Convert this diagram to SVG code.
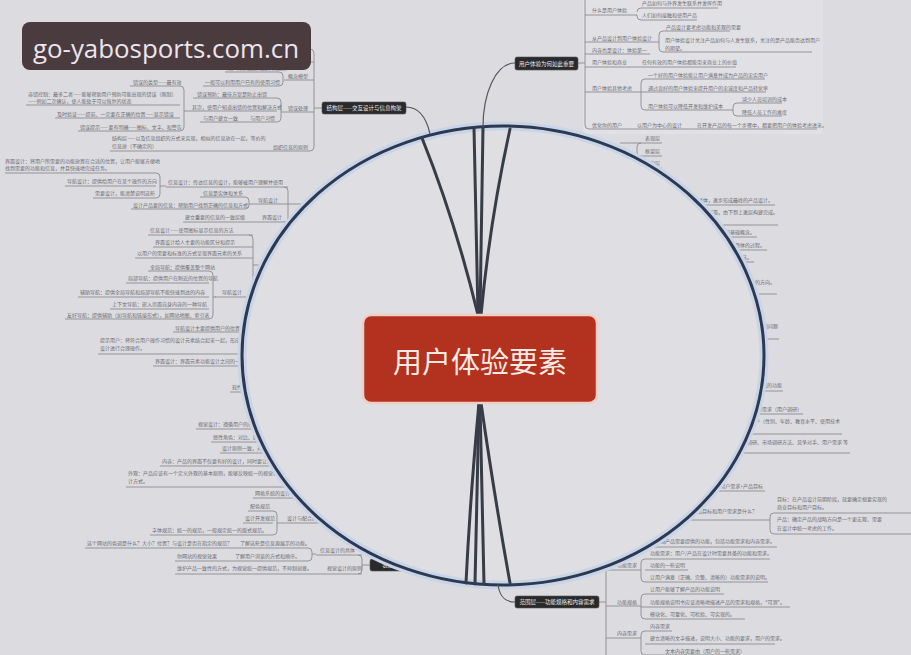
<svg xmlns="http://www.w3.org/2000/svg" width="911" height="655" viewBox="0 0 911 655">
<style>
.t{font-family:"Noto Sans CJK SC","Noto Sans",sans-serif;font-size:5px;fill:#6a6a70}
.e{text-anchor:end}
.u{fill:none;stroke:#8a8a90;stroke-width:0.9}
.lb{fill:#2a2a2c;stroke:#555;stroke-width:0.6}
.lt{font-family:"Noto Sans CJK SC","Noto Sans",sans-serif;font-size:5.5px;fill:#ececec;text-anchor:middle}
.inner{fill:none;stroke:#383c46;stroke-width:3;stroke-linecap:round}
.cn{fill:none;stroke:#55575e;stroke-width:1.2}
</style>
<rect width="911" height="655" fill="#dcdce0"/>
<rect x="583" y="0" width="240" height="134" fill="#e1e1e5"/>

<g id="connectors">
<path class="u" d="M578,63 H585 M585,0 V125 Q585,129 589,129 H817 M585,15 H637 M637,12 Q637,8 641,8 H718 M637,15 V16 Q637,20 641,20 H697 M585,42 H659 M663,31 Q659,31 659,35 V48 Q659,52 663,52 M663,31 H730 M663,52 H812 M585,54 H650 M585,67 H736 M585,92 H641 M645,79 Q641,79 641,83 V106 Q641,110 645,110 M645,79 H765 M641,92 H766 M645,110 H733 M737,103 Q733,103 733,107 V112 Q733,116 737,116 M737,103 H782 M737,116 H782"/>
<path class="u" d="M314,108 H322 M205,49 H310 Q314,49 314,53 V147 Q314,151 310,151 H110 M210,62 H314 M314,80 H284 M279,72 Q283,72 283,76 V82 Q283,86 279,86 M279,72 H225 M279,86 H203 M314,112 H281 M277,98 Q281,98 281,102 V118 Q281,122 277,122 M277,98 H193 M277,111 H184 M277,122 H200 M180,86 Q184,86 184,90 V127 Q184,131 180,131 M180,86 H130 M180,105 H26 M180,118 H55 M180,131 H78"/>
<path class="u" d="M5,173 H156 M65,186 H156 M93,198 H156 M156,173 Q160,173 160,177 V194 Q160,198 156,198 M160,186 H166 M166,187 H288 M245,197 Q249,197 249,201 V205 Q249,209 245,209 M245,197 H200 M245,209 H131 M249,204 H288 M183,222 H288 M284,187 Q288,187 288,191 V218 Q288,222 284,222 M288,204 H312"/>
<path class="u" d="M148,235 H253 M153,247 H253 M135,258 H253 M249,235 Q253,235 253,239 V328 Q253,332 249,332 M253,265 H275 M215,297 H253 M209,271 Q213,271 213,275 V315 Q213,319 209,319 M213,297 H216 M209,271 H148 M209,283 H126 M209,297 H78 M209,309 H110 M209,319 H65 M173,332 H249"/>
<path class="u" d="M98,354 H252 M153,366 H250 M230,392 H252 M196,429 H262 M211,442 H268 M220,453 H272 M160,466 H282 M126,487 H292 M253,498 H300 M248,511 H273 M243,523 H273 M277,523 H325 M150,535 H273 M273,511 Q277,511 277,515 V531 Q277,535 273,535"/>
<path class="u" d="M85,548 H308 M175,561 H308 M308,548 Q312,548 312,552 V557 Q312,561 308,561 M312,554 H316 M316,555 H362 M175,574 H362 M358,555 Q362,555 362,559 V570 Q362,574 358,574 M362,565 H370"/>
<path class="u" d="M620,143 H662 M641,143 Q637,143 637,147 V152 Q637,156 641,156 M640,156 H662 M620,168 H662 M620,180 H662 M620,192 H662 M680,205 H775 M690,225 H778 M700,237 H757 M700,250 H767 M720,262 H754 M730,294 H777 M740,339 H779 M750,391 H783 M740,414 H803 M740,434 H842 M740,453 H850 M700,491 H765 M660,520 H770 M915,513 H774 Q770,513 770,517 V530 Q770,534 774,534 H915"/>
<path class="u" d="M599,602 H606 M606,570 V655 M640,547 H777 M606,570 H641 M645,559 Q641,559 641,563 V578 Q641,582 645,582 M645,559 H770 M645,570 H688 M645,582 H768 M606,606 H641 M645,594 Q641,594 641,598 V615 Q641,619 645,619 M645,594 H724 M641,607 H790 M645,619 H745 M606,638 H641 M645,631 Q641,631 641,635 V651 Q641,655 645,655 M645,631 H672 M645,644 H775 M645,655 H740"/>
</g>

<g id="node-why">
<text class="t" x="592" y="12">什么是用户体验</text>
<text class="t" x="642" y="5">产品如何与外界发生联系并发挥作用</text>
<text class="t" x="642" y="17">人们如何接触和使用产品</text>
<text class="t" x="592" y="40">从产品设计到用户体验设计</text>
<text class="t" x="666" y="29">产品设计要考虑功能和美观的需要</text>
<text class="t" x="665" y="42">用户体验设计关注产品如何与人发生联系，关注的是产品能否达到用户</text>
<text class="t" x="665" y="50">的期望。</text>
<text class="t" x="592" y="52">内容也是设计：体验第一</text>
<text class="t" x="592" y="64">用户体验和商业</text>
<text class="t" x="642" y="64">任何有效的用户体验都能带来商业上的价值</text>
<text class="t" x="592" y="90">用户体验其他考虑</text>
<text class="t" x="648" y="77">一个好的用户体验能让用户满意并成为产品的忠实用户</text>
<text class="t" x="648" y="90">通过良好的用户体验来提升用户的忠诚度和产品转化率</text>
<text class="t" x="648" y="108">用户体验可以降低开发和维护成本</text>
<text class="t" x="742" y="101">减少人员培训的成本</text>
<text class="t" x="742" y="114">降低人员工作的难度</text>
<text class="t" x="592" y="127">优化你的用户</text>
<text class="t" x="637" y="127">以用户为中心的设计</text>
<text class="t" x="697" y="127">在开发产品的每一个步骤中，都要把用户的体验考虑进来。</text>
</g>

<g id="node-structure-items">
<text class="t" x="288" y="78">概念模型</text>
<text class="t" x="227" y="70">用户对系统如何运作的理解</text>
<text class="t" x="205" y="84">一般可以利用用户已有的使用习惯</text>
<text class="t" x="288" y="110">错误处理</text>
<text class="t" x="197" y="96">错误预防：最佳方案是防止出错</text>
<text class="t" x="192" y="109">其次，使用户知道出错的位置和解决方式</text>
<text class="t" x="203" y="120">与用户建立一致</text>
<text class="t" x="250" y="120">与用户习惯</text>
<text class="t" x="133" y="84">错误的类型——最有效</text>
<text class="t" x="28" y="96">容错控制：最多二者——能够帮助用户预防可能出现的错误（限制）</text>
<text class="t" x="28" y="103">——例如二次确认，使人能处于可以恢复的状态</text>
<text class="t" x="57" y="116">及时验证——提前、一定要在正确的位置——显示错误</text>
<text class="t" x="80" y="129">错误提示——要有明确——图标、文字、和警告</text>
<text class="t" x="112" y="140">结构层——以及信息组织的方式来实现，相似的信息放在一起，等价的</text>
<text class="t" x="112" y="148">信息放（不确定的）</text>
<text class="t" x="273" y="149">组织信息的原则</text>
</g>

<g id="node-left-items">
<text class="t" x="5" y="163">界面设计：将用户所需要的功能放置在合适的位置，让用户能够方便地</text>
<text class="t" x="5" y="170">找到需要的功能和信息，并且快速地完成任务。</text>
<text class="t" x="67" y="183">导航设计：提供给用户在某个操作的方向</text>
<text class="t" x="95" y="195">需要设计，能清楚说明这些</text>
<text class="t" x="168" y="184">信息设计：传达信息的设计，能够被用户理解并使用</text>
<text class="t" x="203" y="195">信息是实体和关系</text>
<text class="t" x="133" y="207">设计产品要的信息：帮助用户找到正确的信息和方式</text>
<text class="t" x="258" y="202">导航设计</text>
<text class="t" x="185" y="219">建立重要的信息的一致层级</text>
<text class="t" x="262" y="219">界面设计</text>
<text class="t" x="150" y="232">信息设计——使用图标显示信息的方法</text>
<text class="t" x="155" y="244">界面设计给人主要的功能区分和提示</text>
<text class="t" x="137" y="255">以用户的需要和标准的方式呈现界面元素的关系</text>
<text class="t" x="222" y="294">导航设计</text>
<text class="t" x="150" y="269">全局导航：提供覆盖整个网站</text>
<text class="t" x="128" y="280">局部导航：提供用户在附近的位置的导航</text>
<text class="t" x="80" y="294">辅助导航：提供全局导航和局部导航不能快速到达的内容</text>
<text class="t" x="112" y="306">上下文导航：嵌入页面自身内容的一种导航</text>
<text class="t" x="67" y="317">友好导航：提供辅助（如导航和链接形式），如网站地图、索引表</text>
<text class="t" x="175" y="330">导航设计主要提供用户的位置</text>
<text class="t" x="100" y="342">提示用户：将符合用户操作习惯的设计元素结合起来一起，形成一个整体的</text>
<text class="t" x="100" y="350">设计进行合理操作。</text>
<text class="t" x="155" y="363">界面设计：界面元素功能设计之间的一致性</text>
<text class="t" x="232" y="389">软件设计</text>
<text class="t" x="198" y="426">视觉设计：遵循用户的视觉习惯</text>
<text class="t" x="213" y="439">感性角色：对比、统一性</text>
<text class="t" x="222" y="450">设计原则一致，对比</text>
<text class="t" x="162" y="463">内容：产品的界面不仅要有好的设计，同时要让内容更加丰富</text>
<text class="t" x="128" y="475">外观：产品应该有一个定义外观的基本原则，能够反映统一的视觉特征和品牌的设</text>
<text class="t" x="128" y="483">计方式。</text>
<text class="t" x="255" y="495">网格系统的设计</text>
<text class="t" x="250" y="508">配色规范</text>
<text class="t" x="245" y="520">设计开发规范</text>
<text class="t" x="287" y="520">设计与配合的规范</text>
<text class="t" x="152" y="532">字体规范：统一的规范，一般规定统一的版式规范。</text>
</g>

<g id="node-surface">
<text class="t" x="87" y="545">这个网站的色调是什么？大小？位置？与设计是否在指定的规范？</text>
<text class="t" x="240" y="545">了解这些是信息源展示的功能。</text>
<text class="t" x="177" y="558">你网站的视觉效果</text>
<text class="t" x="235" y="558">了解用户浏览的方式和顺序。</text>
<text class="t" x="320" y="552">信息设计的具体</text>
<text class="t" x="177" y="570">维护产品一致性的方式，为视觉统一提供规范，不抑制创意。</text>
<text class="t" x="327" y="570">视觉设计的原则</text>
<rect class="lb" x="370" y="559" width="72" height="12" rx="2"/>
<text class="lt" x="406" y="567">表现层——感知设计</text>
</g>

<g id="node-right-items">
<text class="t" x="645" y="140">表现层</text>
<text class="t" x="645" y="153">框架层</text>
<text class="t" x="645" y="165">结构层</text>
<text class="t" x="645" y="177">范围层</text>
<text class="t" x="645" y="189">战略层</text>
<text class="t e" x="773" y="202">用户体验的五个层面由抽象到具体，逐步形成最终的产品设计。</text>
<text class="t e" x="778" y="214">每个层面都依赖于其下面的层面，由下到上逐层构建完成。</text>
<text class="t e" x="755" y="234">战略层是其他各层的基础概念。</text>
<text class="t e" x="765" y="247">从下到上的设计是一个整体的过程。</text>
<text class="t e" x="752" y="259">自下而上的方法。</text>
<text class="t e" x="775" y="284">每一层都是设计的方向。</text>
<text class="t e" x="778" y="328">每一层要解决的问题</text>
<text class="t e" x="782" y="387">这些层面要完成的功能</text>
<text class="t e" x="802" y="411">用户需求：外部需求（用户调研）</text>
<text class="t e" x="840" y="423">细分用户（性别、年龄、教育水平、使用技术</text>
<text class="t e" x="848" y="444">用户需求调研、市场调研方法、竞争对手、用户需求 等</text>
<text class="t e" x="763" y="488">用户需求+产品目标</text>
<text class="t" x="777" y="501">目标：在产品设计前期阶段，就要确定想要实现的</text>
<text class="t" x="777" y="509">商业目标和用户目标。</text>
<text class="t e" x="757" y="513">产品目标和用户需求是什么？</text>
<text class="t" x="777" y="521">产品：确定产品的战略方向是一个更宏观、需要</text>
<text class="t" x="777" y="530">在设计中统一考虑的工作。</text>
</g>

<g id="node-scope-items">
<text class="t e" x="775" y="543">功能规格：明确产品需要提供的功能，包括功能需求和内容需求。</text>
<text class="t" x="650" y="555">功能需求：用户/产品在设计时需要具备的功能和需求。</text>
<text class="t" x="617" y="567">功能需求</text>
<text class="t" x="650" y="567">功能的一些说明</text>
<text class="t" x="650" y="579">让用户满意（正确、完整、清晰的）功能需求的说明。</text>
<text class="t" x="650" y="591">让用户能够了解产品的功能说明</text>
<text class="t" x="617" y="604">功能规格</text>
<text class="t" x="650" y="604">功能规格说明书应该清晰地描述产品的需求和规格，“可测”。</text>
<text class="t" x="650" y="616">模块化、可量化、可检验、可实现的。</text>
<text class="t" x="650" y="628">内容需求</text>
<text class="t" x="617" y="635">内容需求</text>
<text class="t" x="650" y="640">建立清晰的文字描述，说明大小、功能的要求，用户的需求。</text>
<text class="t" x="665" y="653">文本内容需要由（用户的一些需求）</text>
</g>

<g id="frame">
<ellipse cx="503" cy="355.5" rx="261" ry="229.5" fill="#dedee3" stroke="#c9d5e7" stroke-width="9"/>
<ellipse cx="503" cy="355.5" rx="261" ry="229.5" fill="none" stroke="#2d3852" stroke-width="3"/>
</g>

<g id="main-connectors">
<path class="inner" d="M422,138 Q455,220 478,315"/>
<path class="inner" d="M474,128 L478,315"/>
<path class="inner" d="M483,127 L480,315"/>
<path class="inner" d="M510,129 Q490,220 481,315"/>
<path class="inner" d="M479,403 Q470,500 466,583"/>
<path class="inner" d="M479,403 L475,584"/>
<path class="inner" d="M480,403 L484,584"/>
<path class="inner" d="M481,403 Q495,500 510,583"/>
<path class="cn" d="M483,127 C483,95 495,63 515,63"/>
<path class="cn" d="M430,134 C426,116 418,107 406,107"/>
<path class="cn" d="M498,585 C500,598 506,602 515,602"/>
</g>

<g id="node-center">
<rect x="363" y="315" width="234" height="88" rx="8" fill="#b3311f" stroke="#f2cdc4" stroke-width="2.5"/>
<text x="480" y="373" text-anchor="middle" font-family="'Noto Sans CJK SC',sans-serif" font-size="29" fill="#f8eae2">用户体验要素</text>
</g>

<g id="node-structure">
<rect class="lb" x="322" y="102" width="84" height="12" rx="2"/>
<text class="lt" x="364" y="110">结构层——交互设计与信息构架</text>
</g>

<g id="node-why-label">
<rect class="lb" x="515" y="57" width="63" height="13" rx="2"/>
<text class="lt" x="546.5" y="65.5">用户体验为何如此重要</text>
</g>

<g id="node-scope">
<rect class="lb" x="515" y="596" width="84" height="12" rx="2"/>
<text class="lt" x="557" y="604">范围层——功能规格和内容需求</text>
</g>

<g id="watermark">
<rect x="22" y="22" width="289" height="48" rx="8" fill="#4a3b3f"/>
<text x="33" y="58" font-family="'Open Sans',sans-serif" font-size="25" fill="#ece4ee" textLength="266" lengthAdjust="spacingAndGlyphs">go-yabosports.com.cn</text>
</g>
</svg>
